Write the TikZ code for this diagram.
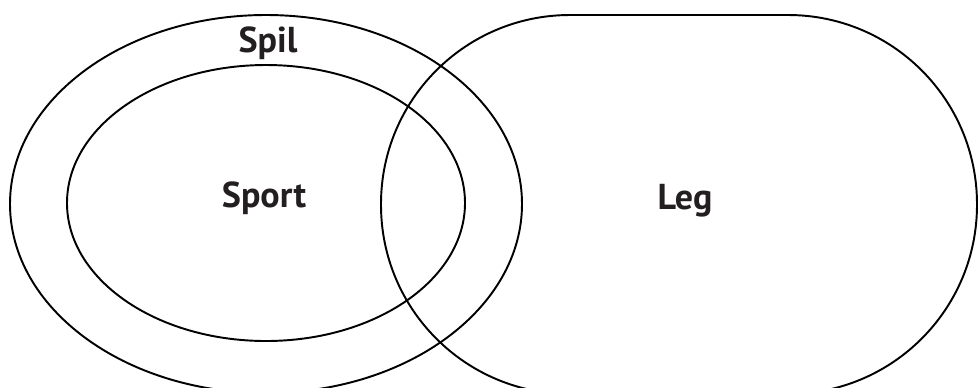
\documentclass[tikz,border=0pt]{standalone}
\usepackage{fontspec}
\setmainfont{PT Sans}
\definecolor{txt}{HTML}{231F20}
\begin{document}
\begin{tikzpicture}[x=0.02cm,y=-0.02cm,
  outline/.style={draw=black,line width=1.1pt},
  lbl/.style={inner sep=0pt,anchor=base,text=txt,font=\bfseries\fontsize{20.5}{23}\selectfont}]
\useasboundingbox (0,0) rectangle (978,387);
\begin{scope}
\clip (0,0) rectangle (978,387);
\draw[outline] (266,204) ellipse [x radius=256, y radius=189];
\draw[outline] (266,203) ellipse [x radius=199, y radius=138];
\draw[outline, rounded corners=3.78cm] (381,15) rectangle (977,394);
\end{scope}
\node[lbl] (spil) at (268,52) {Spil};
\node[lbl] (sport) at (264,207) {Sport};
\node[lbl] (leg) at (685,209) {Leg};
\end{tikzpicture}
\end{document}
